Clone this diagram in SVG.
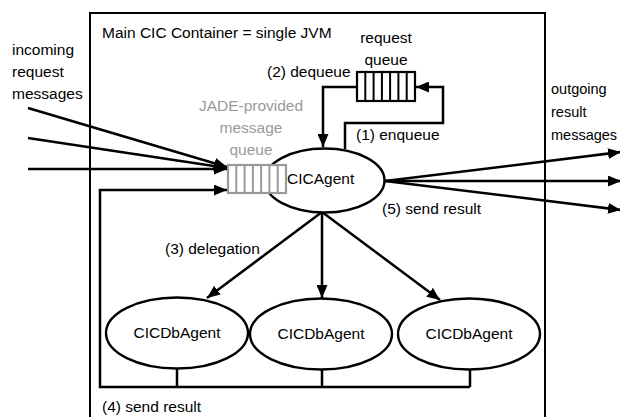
<svg xmlns="http://www.w3.org/2000/svg" width="620" height="417" viewBox="0 0 620 417">
  <style>
    text { font-family: "Liberation Sans", Arial, sans-serif; font-size: 15.5px; fill: #000; }
    .grey { fill: #9a9a9a; }
    .mid { text-anchor: middle; }
    .small { font-size: 14.5px; }
    .node { fill: #fff; stroke: #000; stroke-width: 2.4; }
    .wire { fill: none; stroke: #000; stroke-width: 2.5; }
    .qbox { fill: #fff; stroke: #000; stroke-width: 2.2; }
    .qbox-grey { fill: #fff; stroke: #9a9a9a; stroke-width: 2.2; }
    .cell { stroke: #000; stroke-width: 2; }
    .cell-grey { stroke: #9a9a9a; stroke-width: 2; }
  </style>
  <defs>
    <marker id="arrow" markerUnits="userSpaceOnUse" markerWidth="13" markerHeight="11" refX="13" refY="5.5" orient="auto">
      <path d="M0,0 L13,5.5 L0,11 z" fill="#000"/>
    </marker>
  </defs>

  <!-- container: one JVM -->
  <g id="container">
    <rect x="90" y="13" width="455" height="420" fill="none" stroke="#000" stroke-width="2"/>
    <text x="102" y="38">Main CIC Container = single JVM</text>
  </g>

  <!-- side labels -->
  <g id="incoming-label">
    <text x="12" y="55">incoming</text>
    <text x="12" y="77">request</text>
    <text x="12" y="99">messages</text>
  </g>
  <g id="outgoing-label">
    <text class="small" x="551" y="94">outgoing</text>
    <text class="small" x="551" y="117">result</text>
    <text class="small" x="551" y="140">messages</text>
  </g>

  <!-- connectors -->
  <g id="connectors">
    <!-- incoming requests into the JADE queue -->
    <line class="wire" x1="28" y1="108" x2="227" y2="167" marker-end="url(#arrow)"/>
    <line class="wire" x1="28" y1="138" x2="227" y2="168" marker-end="url(#arrow)"/>
    <line class="wire" x1="28" y1="169" x2="227" y2="169" marker-end="url(#arrow)"/>
    <!-- (1) enqueue -->
    <polyline class="wire" points="345,149 345,123 443,123 443,87 416,87" marker-end="url(#arrow)"/>
    <!-- (2) dequeue -->
    <polyline class="wire" points="357,87 323,87 323,147" marker-end="url(#arrow)"/>
    <!-- (3) delegation -->
    <line class="wire" x1="322" y1="212" x2="207" y2="298" marker-end="url(#arrow)"/>
    <line class="wire" x1="322" y1="212" x2="322" y2="298" marker-end="url(#arrow)"/>
    <line class="wire" x1="322" y1="212" x2="440" y2="300" marker-end="url(#arrow)"/>
    <!-- (4) send result back to the JADE queue -->
    <polyline class="wire" points="177,368 177,387" />
    <polyline class="wire" points="322,369 322,387" />
    <polyline class="wire" points="470,369 470,387" />
    <polyline class="wire" points="470,387 100,387 100,190 227,190" marker-end="url(#arrow)"/>
    <!-- (5) send result outwards -->
    <line class="wire" x1="385" y1="181" x2="621" y2="152" marker-end="url(#arrow)"/>
    <line class="wire" x1="385" y1="181" x2="621" y2="181" marker-end="url(#arrow)"/>
    <line class="wire" x1="385" y1="181" x2="621" y2="210" marker-end="url(#arrow)"/>
  </g>

  <!-- connector labels -->
  <g id="edge-labels">
    <text x="356" y="140">(1) enqueue</text>
    <text x="267" y="77">(2) dequeue</text>
    <text x="165" y="254">(3) delegation</text>
    <text x="102" y="412">(4) send result</text>
    <text x="382" y="214">(5) send result</text>
  </g>

  <!-- CICAgent with the JADE-provided queue -->
  <g id="cic-agent">
    <ellipse class="node" cx="324.5" cy="180.5" rx="60" ry="32"/>
    <text x="287" y="184">CICAgent</text>
  </g>

  <g id="jade-queue">
    <rect class="qbox-grey" x="228" y="165" width="58" height="28"/>
    <line class="cell-grey" x1="236.3" y1="165" x2="236.3" y2="193"/>
    <line class="cell-grey" x1="244.6" y1="165" x2="244.6" y2="193"/>
    <line class="cell-grey" x1="252.9" y1="165" x2="252.9" y2="193"/>
    <line class="cell-grey" x1="261.1" y1="165" x2="261.1" y2="193"/>
    <line class="cell-grey" x1="269.4" y1="165" x2="269.4" y2="193"/>
    <line class="cell-grey" x1="277.7" y1="165" x2="277.7" y2="193"/>
    <text class="grey mid" x="251" y="111">JADE-provided</text>
    <text class="grey mid" x="251" y="133">message</text>
    <text class="grey mid" x="251" y="155">queue</text>
  </g>

  <g id="request-queue">
    <rect class="qbox" x="357" y="72" width="58" height="29"/>
    <line class="cell" x1="365.3" y1="72" x2="365.3" y2="101"/>
    <line class="cell" x1="373.6" y1="72" x2="373.6" y2="101"/>
    <line class="cell" x1="381.9" y1="72" x2="381.9" y2="101"/>
    <line class="cell" x1="390.1" y1="72" x2="390.1" y2="101"/>
    <line class="cell" x1="398.4" y1="72" x2="398.4" y2="101"/>
    <line class="cell" x1="406.7" y1="72" x2="406.7" y2="101"/>
    <text class="mid" x="386" y="43">request</text>
    <text class="mid" x="386" y="65">queue</text>
  </g>

  <!-- database agents -->
  <g id="db-agent-1">
    <ellipse class="node" cx="177" cy="333" rx="71" ry="35.5"/>
    <text class="mid" x="177" y="338">CICDbAgent</text>
  </g>
  <g id="db-agent-2">
    <ellipse class="node" cx="321" cy="334" rx="71" ry="35.5"/>
    <text class="mid" x="321" y="339">CICDbAgent</text>
  </g>
  <g id="db-agent-3">
    <ellipse class="node" cx="469" cy="334" rx="71" ry="35.5"/>
    <text class="mid" x="469" y="339">CICDbAgent</text>
  </g>
</svg>
